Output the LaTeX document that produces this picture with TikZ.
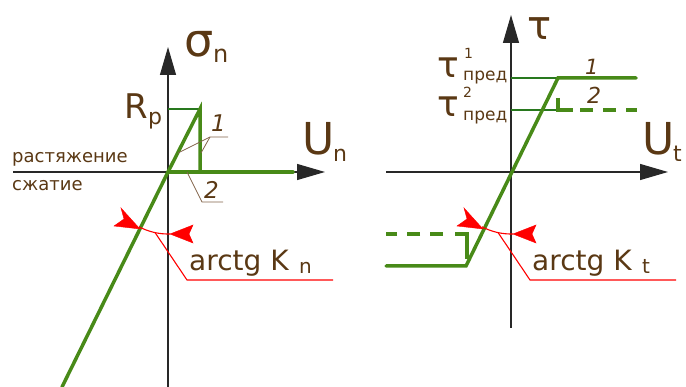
\documentclass[tikz,border=0pt]{standalone}
\usepackage{fontspec}
\setmainfont{DejaVu Sans}
\usetikzlibrary{arrows.meta}
\definecolor{txt}{RGB}{90,56,20}
\definecolor{gthick}{RGB}{72,138,24}
\definecolor{gthin}{RGB}{40,120,30}
\definecolor{lead}{RGB}{130,100,75}
\tikzset{
  axis/.style={line width=1.2pt, draw={rgb,255:red,40;green,40;blue,40}, -{Triangle[length=28pt,width=16pt]}},
  thick green/.style={line width=3.5pt, draw=gthick, line cap=round, line join=miter},
  thin green/.style={line width=1.2pt, draw=gthin},
  dashgreen/.style={line width=3.5pt, draw=gthick, dash pattern=on 13pt off 10pt},
  cornergreen/.style={line width=3.5pt, draw=gthick, line join=miter},
  leader/.style={line width=0.8pt, draw=lead},
  redline/.style={line width=1.1pt, draw=red},
  redhead/.style={fill=red, draw=red, line width=0.4pt, line join=miter},
  lbl/.style={inner sep=0pt, text=txt, anchor=base west},
}
\newcommand{\fs}[1]{\fontsize{#1}{#1}\selectfont}
\begin{document}
\begin{tikzpicture}[x=1pt,y=-1pt]
\useasboundingbox (0,0) rectangle (686,387);
% ---------- left plot ----------
\coordinate (O1) at (168,172);
\draw[axis] (168,387) -- (168,47);
\draw[axis] (13,172) -- (325,172);
\draw[thin green] (168,109) -- (200,109);
\draw[thick green] (62,387) -- (O1) -- (200,109) -- (200,172);
\draw[thick green] (O1) -- (293,172);
% labels
\node[lbl] (sig) at (184,57) {\fs{46}σ};
\node[lbl] (sign) at (213,63) {\fs{24}n};
\node[lbl] (U1) at (302,155) {\fs{44}U};
\node[lbl] (U1n) at (333,162) {\fs{22}n};
\node[lbl] (R) at (124,119) {\fs{34}R};
\node[lbl] (Rp) at (148,125) {\fs{22}p};
\node[lbl] (rast) at (12,163) {\fs{18}растяжение};
\node[lbl] (szh) at (12,191) {\fs{18}сжатие};
% leaders 1 and 2
\node[lbl] (one) at (211,132) {\fs{23}\itshape 1};
\draw[leader] (178,153) -- (210,137) -- (228,137);
\draw[leader] (201,153) -- (210,137);
\node[lbl] (two) at (204,199) {\fs{23}\itshape 2};
\draw[leader] (187,172) -- (202,202) -- (223,202);
% angle
\draw[redline] (O1) ++(118:62) arc[start angle=118, end angle=88, radius=62];
\fill[redhead] (140,229) -- (121,208) -- (124,219) -- (114,226) -- cycle;
\fill[redhead] (170,234) -- (193,225) -- (189,234) -- (193,243) -- cycle;
\draw[redline] (O1) ++(102:62) -- (187,280) -- (333,280);
\node[lbl] (ak1) at (189,271) {\fs{28}arctg K};
\node[lbl] (ak1n) at (299,274) {\fs{20}n};
% ---------- right plot ----------
\coordinate (O2) at (511,172);
\draw[axis] (511,328) -- (511,15);
\draw[axis] (386,172) -- (668,172);
\draw[thin green] (511,78) -- (558,78);
\draw[thin green] (511,110) -- (558,110);
\draw[thick green] (386,266) -- (466,266) -- (558,78) -- (636,78);
\draw[cornergreen] (558,98) -- (558,110) -- (573,110);
\draw[dashgreen] (580,110) -- (637,110);
\draw[cornergreen] (467,259) -- (467,234) -- (455,234);
\draw[dashgreen] (443,234) -- (386,234);
\node[lbl] (tau) at (527,40) {\fs{40}τ};
\node[lbl] (U2) at (642,155) {\fs{44}U};
\node[lbl] (U2t) at (673,162) {\fs{22}t};
\node[lbl] (t1) at (437,78) {\fs{36}τ};
\node[lbl] (t1s) at (464,59) {\fs{14}1};
\node[lbl] (t1p) at (463,81) {\fs{17}пред};
\node[lbl] (t2) at (437,117) {\fs{36}τ};
\node[lbl] (t2s) at (463,98) {\fs{14}2};
\node[lbl] (t2p) at (463,121) {\fs{17}пред};
\node[lbl] (r1) at (585,75) {\fs{21}\itshape 1};
\node[lbl] (r2) at (587,104) {\fs{22}\itshape 2};
\draw[redline] (O2) ++(118:62) arc[start angle=118, end angle=88, radius=62];
\begin{scope}[shift={(343,0)}]
\fill[redhead] (140,229) -- (121,208) -- (124,219) -- (114,226) -- cycle;
\fill[redhead] (170,234) -- (193,225) -- (189,234) -- (193,243) -- cycle;
\end{scope}
\draw[redline] (O2) ++(102:62) -- (530,280) -- (676,280);
\node[lbl] (ak2) at (532,271) {\fs{28}arctg K};
\node[lbl] (ak2t) at (642,274) {\fs{20}t};
\end{tikzpicture}
\end{document}
